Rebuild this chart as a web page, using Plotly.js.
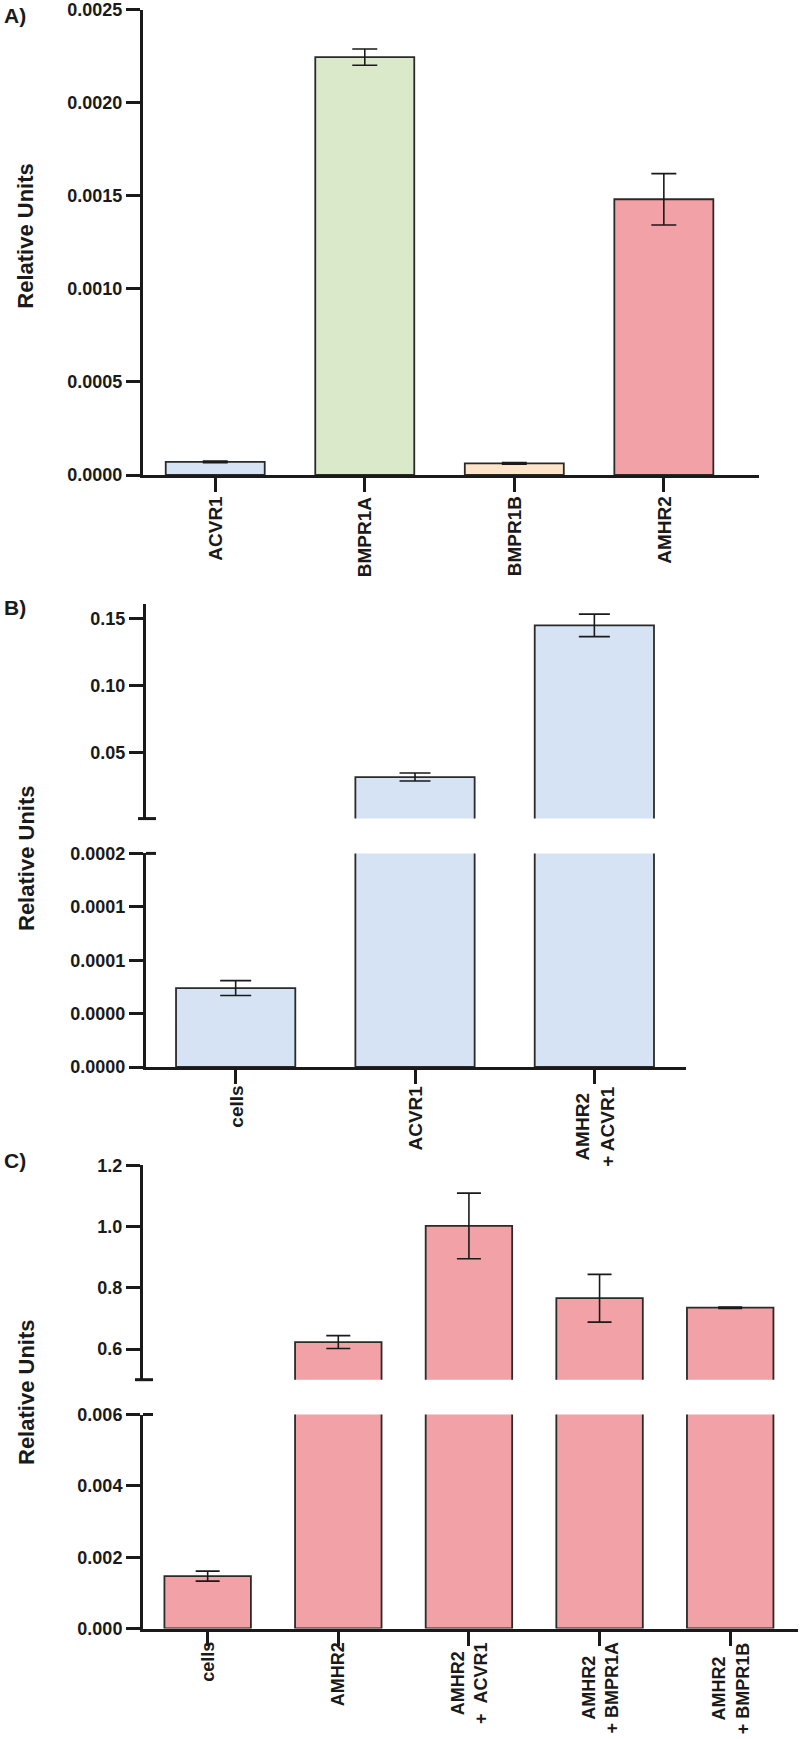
<!DOCTYPE html>
<html>
<head>
<meta charset="utf-8">
<script src="https://cdn.plot.ly/plotly-3.0.1.min.js"></script>
<style>html,body{margin:0;padding:0;background:#fff;}#chart{width:800px;height:1739px;}</style>
</head>
<body>
<div id="chart"></div>
<script>
var NB = '\u00a0';
// ---------- Panel A ----------
var aCategories = ['ACVR1', 'BMPR1A', 'BMPR1B', 'AMHR2'];
var aValues = [0.000071, 0.002246, 0.000062, 0.001482];
var aErrors = [0.0000045, 0.000044, 0.0000045, 0.000138];
var aColors = ['#d5e3f4', '#d9e9c9', '#fee5c9', '#f2a2a7'];
var aTickVals = [0, 0.0005, 0.0010, 0.0015, 0.0020, 0.0025];
var aTickText = ['0.0000', '0.0005', '0.0010', '0.0015', '0.0020', '0.0025'];

// ---------- Panel B ----------
var bCategories = ['cells', 'ACVR1', 'AMHR2<br>+ ACVR1'];
var bValues = [0.000074, 0.032, 0.1452];
var bErrors = [0.000007, 0.003, 0.0084];
var bColor = '#d5e3f4';
var bLowerTickVals = [0, 0.00005, 0.0001, 0.00015, 0.0002];
var bLowerTickText = ['0.0000', '0.0000', '0.0001', '0.0001', '0.0002'];
var bUpperTickVals = [0.05, 0.10, 0.15];
var bUpperTickText = ['0.05', '0.10', '0.15'];

// ---------- Panel C ----------
var cCategories = ['cells', 'AMHR2', 'AMHR2<br>+' + NB + NB + 'ACVR1', 'AMHR2<br>+ BMPR1A', 'AMHR2<br>+ BMPR1B'];
var cValues = [0.00147, 0.623, 1.002, 0.766, 0.735];
var cErrors = [0.00014, 0.021, 0.107, 0.078, 0.002];
var cColor = '#f2a2a7';
var cLowerTickVals = [0, 0.002, 0.004, 0.006];
var cLowerTickText = ['0.000', '0.002', '0.004', '0.006'];
var cUpperTickVals = [0.6, 0.8, 1.0, 1.2];
var cUpperTickText = ['0.6', '0.8', '1.0', '1.2'];

var INK = '#1a1a1a';
var FONT = 'Liberation Sans, Arial, sans-serif';
var yTickFont = {family: FONT, size: 18, color: INK, weight: 'bold'};
var xLabelFont = {family: FONT, size: 19, color: INK, weight: 'bold'};
var xLabelFontC = {family: FONT, size: 18, color: INK, weight: 'bold'};
var labelFont = {family: FONT, size: 21, color: INK, weight: 'bold'};
var titleFont = {family: FONT, size: 22, color: INK, weight: 'bold'};

function barTrace(x, y, err, colors, width, xa, ya, capw) {
  return {
    type: 'bar', x: x, y: y, xaxis: xa, yaxis: ya, width: width,
    marker: {color: colors, line: {color: '#2a2a2a', width: 1.8}},
    error_y: {type: 'data', array: err, visible: true, color: INK, thickness: 1.6, width: capw},
    hoverinfo: 'skip'
  };
}
function lowerPart(vals, errs, max) {
  return {v: vals.slice(), e: vals.map(function (v, i) { return v <= max ? errs[i] : 0; })};
}
function upperPart(vals, errs, max) {
  return {v: vals.map(function (v) { return v > max ? v : null; }),
          e: vals.map(function (v, i) { return v > max ? errs[i] : 0; })};
}

var bLowMax = 0.0002, cLowMax = 0.006;
var bLow = lowerPart(bValues, bErrors, bLowMax), bUp = upperPart(bValues, bErrors, bLowMax);
var cLow = lowerPart(cValues, cErrors, cLowMax), cUp = upperPart(cValues, cErrors, cLowMax);

var traces = [
  barTrace(aCategories, aValues, aErrors, aColors, 0.662, 'x', 'y', 12.5),
  barTrace(bCategories, bLow.v, bLow.e, bColor, 0.665, 'x2', 'y2', 15.5),
  barTrace(bCategories, bUp.v, bUp.e, bColor, 0.665, 'x2', 'y3', 15.5),
  barTrace(cCategories, cLow.v, cLow.e, cColor, 0.662, 'x3', 'y4', 12),
  barTrace(cCategories, cUp.v, cUp.e, cColor, 0.662, 'x3', 'y5', 12)
];

function xAxis(domain, range, anchor) {
  return {domain: domain, range: range, anchor: anchor, type: 'category',
    showline: true, linewidth: 3, linecolor: INK, ticks: 'outside', ticklen: 14, tickwidth: 3,
    tickcolor: INK, showticklabels: false,
    showgrid: false, zeroline: false, fixedrange: true};
}
function yAxis(domain, range, anchor, tv, tt) {
  return {domain: domain, range: range, anchor: anchor, tickmode: 'array', tickvals: tv, ticktext: tt,
    showline: true, linewidth: 3, linecolor: INK, ticks: 'outside', ticklen: 14, tickwidth: 3,
    tickcolor: INK, tickfont: yTickFont, ticklabeloverflow: 'allow',
    showgrid: false, zeroline: false, fixedrange: true};
}

var H = 1739, W = 800;
function py(px) { return 1 - px / H; }

// category labels under each x axis, lines centred like the original
function xLabels(cats, xref, topPx, font) {
  return cats.map(function (c, i) {
    return {text: c, xref: xref, x: i, yref: 'paper', y: py(topPx), xanchor: 'center', yanchor: 'top',
            textangle: -90, align: 'center', showarrow: false, font: font, borderpad: 0};
  });
}

var annotations = [
  {text: 'A)', xref: 'paper', yref: 'paper', x: 2 / W, y: py(15), xanchor: 'left', yanchor: 'middle', showarrow: false, font: labelFont},
  {text: 'B)', xref: 'paper', yref: 'paper', x: 2 / W, y: py(607.5), xanchor: 'left', yanchor: 'middle', showarrow: false, font: labelFont},
  {text: 'C)', xref: 'paper', yref: 'paper', x: 2 / W, y: py(1160), xanchor: 'left', yanchor: 'middle', showarrow: false, font: labelFont},
  {text: 'Relative Units', textangle: -90, xref: 'paper', yref: 'paper', x: 26 / W, y: py(235.7), xanchor: 'center', yanchor: 'middle', showarrow: false, font: titleFont},
  {text: 'Relative Units', textangle: -90, xref: 'paper', yref: 'paper', x: 26 / W, y: py(858), xanchor: 'center', yanchor: 'middle', showarrow: false, font: titleFont},
  {text: 'Relative Units', textangle: -90, xref: 'paper', yref: 'paper', x: 26 / W, y: py(1392), xanchor: 'center', yanchor: 'middle', showarrow: false, font: titleFont}
].concat(xLabels(aCategories, 'x', 495, xLabelFont))
 .concat(xLabels(bCategories, 'x2', 1085, xLabelFont))
 .concat(xLabels(cCategories, 'x3', 1641, xLabelFontC));

var layout = {
  width: W, height: H, margin: {l: 0, r: 0, t: 0, b: 0},
  paper_bgcolor: '#ffffff', plot_bgcolor: 'rgba(0,0,0,0)', showlegend: false, bargap: 0,
  xaxis: xAxis([143 / W, 758.5 / W], [-0.483, 3.633], 'y'),
  yaxis: yAxis([py(475), py(9.5)], [0, 0.002502], 'x', aTickVals, aTickText),
  xaxis2: xAxis([146 / W, 686 / W], [-0.5, 2.511], 'y2'),
  yaxis2: yAxis([py(1067), py(853.4)], [0, 0.0002002], 'x2', bLowerTickVals, bLowerTickText),
  yaxis3: yAxis([py(818.6), py(603.9)], [0.001, 0.1612], 'x2', bUpperTickVals, bUpperTickText),
  xaxis3: xAxis([143 / W, 798 / W], [-0.495, 4.519], 'y4'),
  yaxis4: yAxis([py(1628.5), py(1414.5)], [0, 0.006003], 'x3', cLowerTickVals, cLowerTickText),
  yaxis5: yAxis([py(1379.7), py(1165.2)], [0.5, 1.2003], 'x3', cUpperTickVals, cUpperTickText),
  shapes: [
    {type: 'line', xref: 'paper', xsizemode: 'pixel', xanchor: 146 / W, x0: -8, x1: 10,
     yref: 'y3 domain', y0: 0, y1: 0, line: {color: INK, width: 3}},
    {type: 'line', xref: 'paper', xsizemode: 'pixel', xanchor: 146 / W, x0: 0, x1: 10,
     yref: 'y2 domain', y0: 1, y1: 1, line: {color: INK, width: 3}},
    {type: 'line', xref: 'paper', xsizemode: 'pixel', xanchor: 143 / W, x0: -8, x1: 10,
     yref: 'y5 domain', y0: 0, y1: 0, line: {color: INK, width: 3}},
    {type: 'line', xref: 'paper', xsizemode: 'pixel', xanchor: 143 / W, x0: 0, x1: 10,
     yref: 'y4 domain', y0: 1, y1: 1, line: {color: INK, width: 3}}
  ],
  annotations: annotations
};

Plotly.newPlot('chart', traces, layout, {staticPlot: true, displayModeBar: false});
</script>
</body>
</html>
